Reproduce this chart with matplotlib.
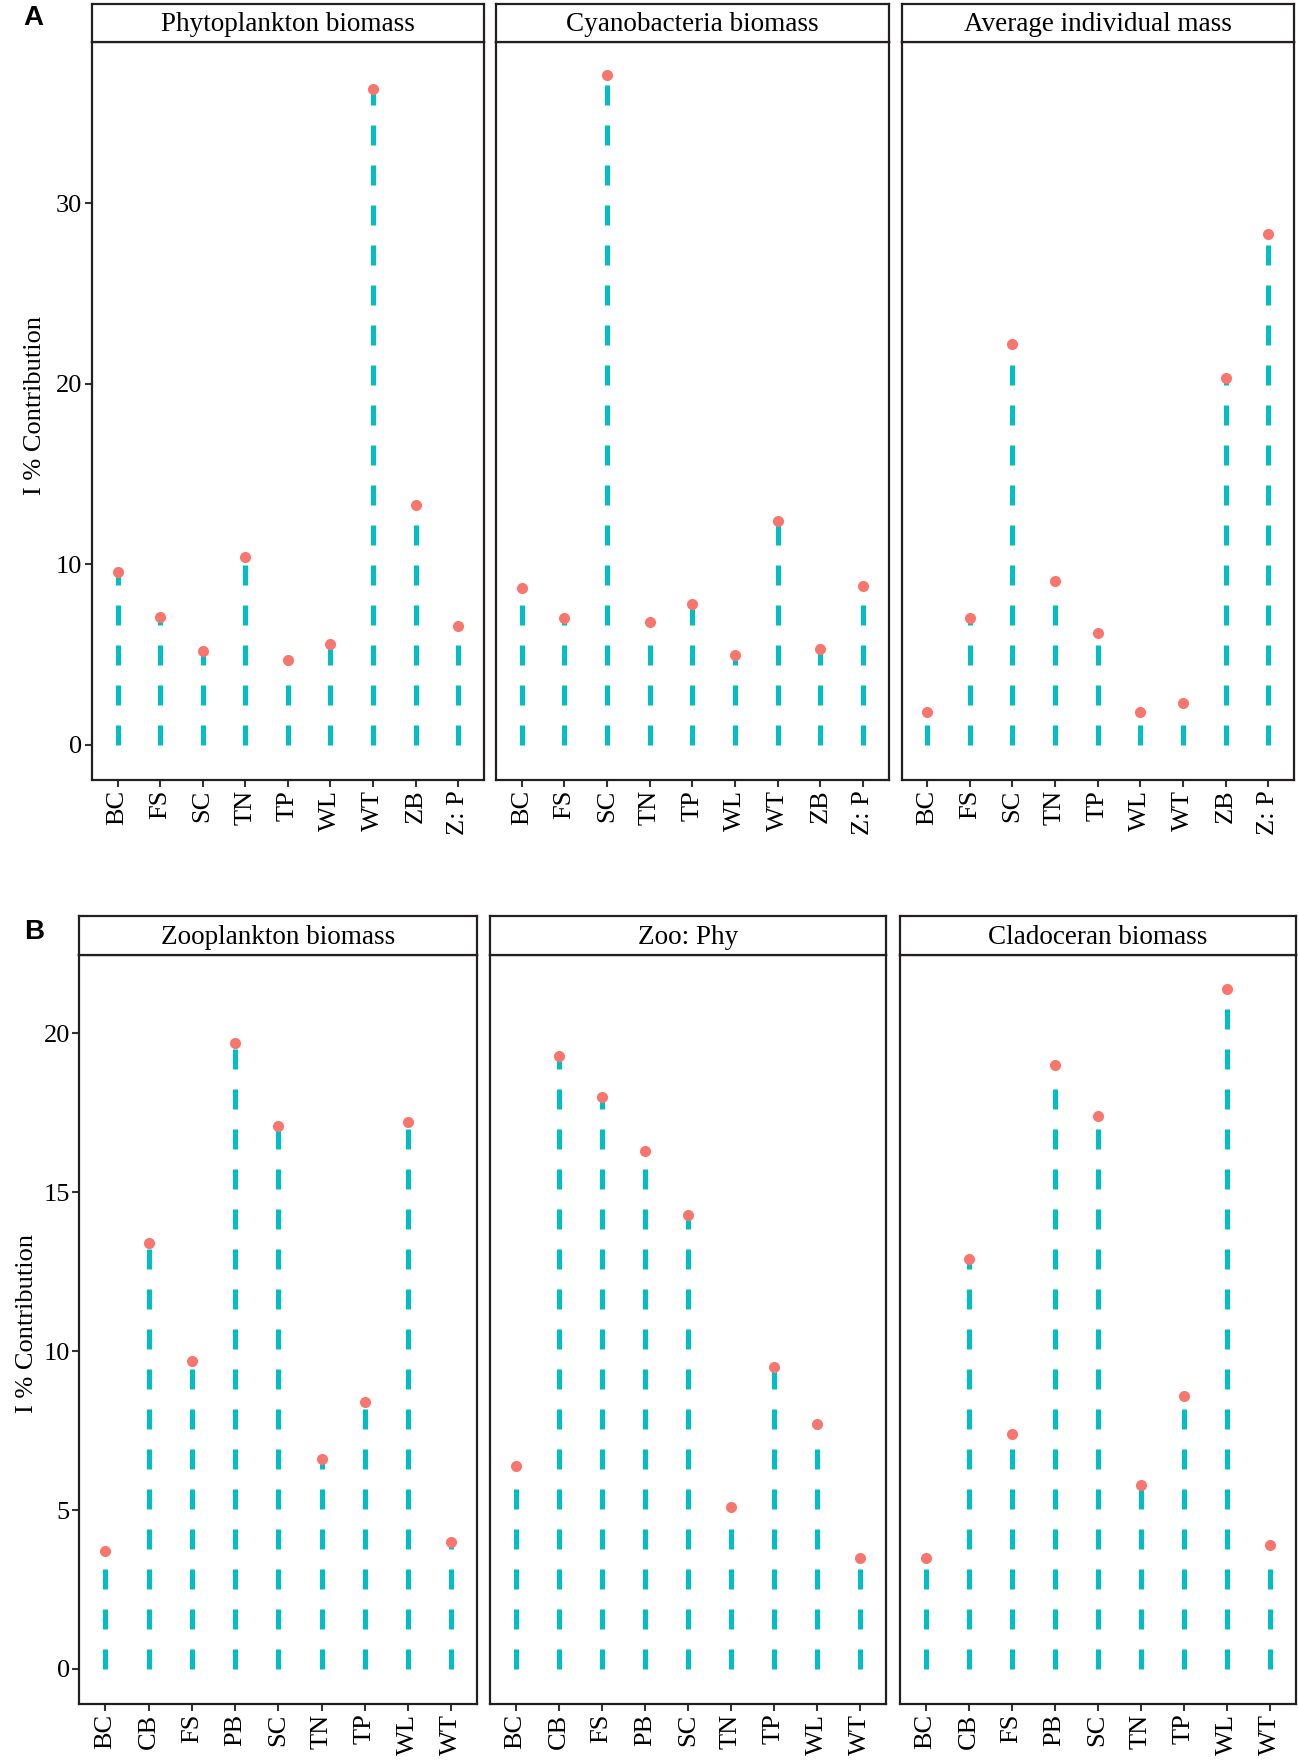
import numpy as np
import matplotlib
matplotlib.use("Agg")
import matplotlib.pyplot as plt

# categories for the two panels
cats_a = ["BC", "FS", "SC", "TN", "TP", "WL", "WT", "ZB", "Z: P"]
cats_b = ["BC", "CB", "FS", "PB", "SC", "TN", "TP", "WL", "WT"]

# panel A values (I % contribution)
phyto = [9.6, 7.1, 5.2, 10.4, 4.7, 5.6, 36.3, 13.3, 6.6]
cyano = [8.7, 7.0, 37.1, 6.8, 7.8, 5.0, 12.4, 5.3, 8.8]
avg_mass = [1.8, 7.0, 22.2, 9.1, 6.2, 1.8, 2.3, 20.3, 28.3]

# panel B values
zoo = [3.7, 13.4, 9.7, 19.7, 17.1, 6.6, 8.4, 17.2, 4.0]
zoo_phy = [6.4, 19.3, 18.0, 16.3, 14.3, 5.1, 9.5, 7.7, 3.5]
clado = [3.5, 12.9, 7.4, 19.0, 17.4, 5.8, 8.6, 21.4, 3.9]

titles_a = ["Phytoplankton biomass", "Cyanobacteria biomass", "Average individual mass"]
titles_b = ["Zooplankton biomass", "Zoo: Phy", "Cladoceran biomass"]

line_col = "#00BFC4"
dot_col = "#F8766D"
serif = "Liberation Serif"

plt.rcParams["font.family"] = serif

fig = plt.figure(figsize=(12.99, 17.62), dpi=100)


def lollipop(ax, cats, vals, ylim, yticks):
    x = np.arange(1, len(cats) + 1)
    ax.vlines(x, 0, vals, colors=line_col, linewidth=3.6,
              linestyles=(0, (4, 4)), zorder=2)
    ax.scatter(x, vals, s=64, color=dot_col, zorder=3, linewidths=0)
    ax.set_xlim(0.4, len(cats) + 0.6)
    ax.set_ylim(*ylim)
    ax.set_xticks(x)
    ax.set_xticklabels(cats, rotation=90, fontsize=18.5)
    ax.set_yticks(yticks)
    ax.tick_params(axis="both", length=5, width=1.5, color="#333333",
                   labelsize=19, pad=2)
    for s in ax.spines.values():
        s.set_linewidth(1.6)
        s.set_color("#231f20")


def strip(fig, left, bottom, width, height, title):
    sax = fig.add_axes([left, bottom, width, height])
    sax.set_xticks([])
    sax.set_yticks([])
    for s in sax.spines.values():
        s.set_linewidth(1.6)
        s.set_color("#231f20")
    sax.text(0.5, 0.45, title, ha="center", va="center", fontsize=19.5,
             transform=sax.transAxes)


# ---- panel A ----
lefts_a = [0.0708, 0.382, 0.694]
rights_a = [0.3724, 0.684, 0.996]
bot_a, top_a, strip_a = 0.5573, 0.9764, 0.998
data_a = [phyto, cyano, avg_mass]
for i in range(3):
    ax = fig.add_axes([lefts_a[i], bot_a, rights_a[i] - lefts_a[i], top_a - bot_a])
    lollipop(ax, cats_a, data_a[i], (-1.95, 38.95), [0, 10, 20, 30])
    if i > 0:
        ax.tick_params(axis="y", left=False, labelleft=False)
    strip(fig, lefts_a[i], top_a, rights_a[i] - lefts_a[i], strip_a - top_a, titles_a[i])

# ---- panel B ----
lefts_b = [0.0612, 0.377, 0.6926]
rights_b = [0.3673, 0.682, 0.9974]
bot_b, top_b, strip_b = 0.033, 0.458, 0.480
data_b = [zoo, zoo_phy, clado]
for i in range(3):
    ax = fig.add_axes([lefts_b[i], bot_b, rights_b[i] - lefts_b[i], top_b - bot_b])
    lollipop(ax, cats_b, data_b[i], (-1.1, 22.47), [0, 5, 10, 15, 20])
    if i > 0:
        ax.tick_params(axis="y", left=False, labelleft=False)
    strip(fig, lefts_b[i], top_b, rights_b[i] - lefts_b[i], strip_b - top_b, titles_b[i])

fig.text(0.027, 0.770, "I % Contribution", rotation=90, ha="center", va="center", fontsize=19)
fig.text(0.021, 0.249, "I % Contribution", rotation=90, ha="center", va="center", fontsize=19)

fig.text(0.026, 0.990, "A", fontsize=20, fontweight="bold", family="Liberation Sans",
         ha="center", va="center")
fig.text(0.026, 0.471, "B", fontsize=20, fontweight="bold", family="Liberation Sans",
         ha="center", va="center")

fig.savefig("out.png", dpi=100)
